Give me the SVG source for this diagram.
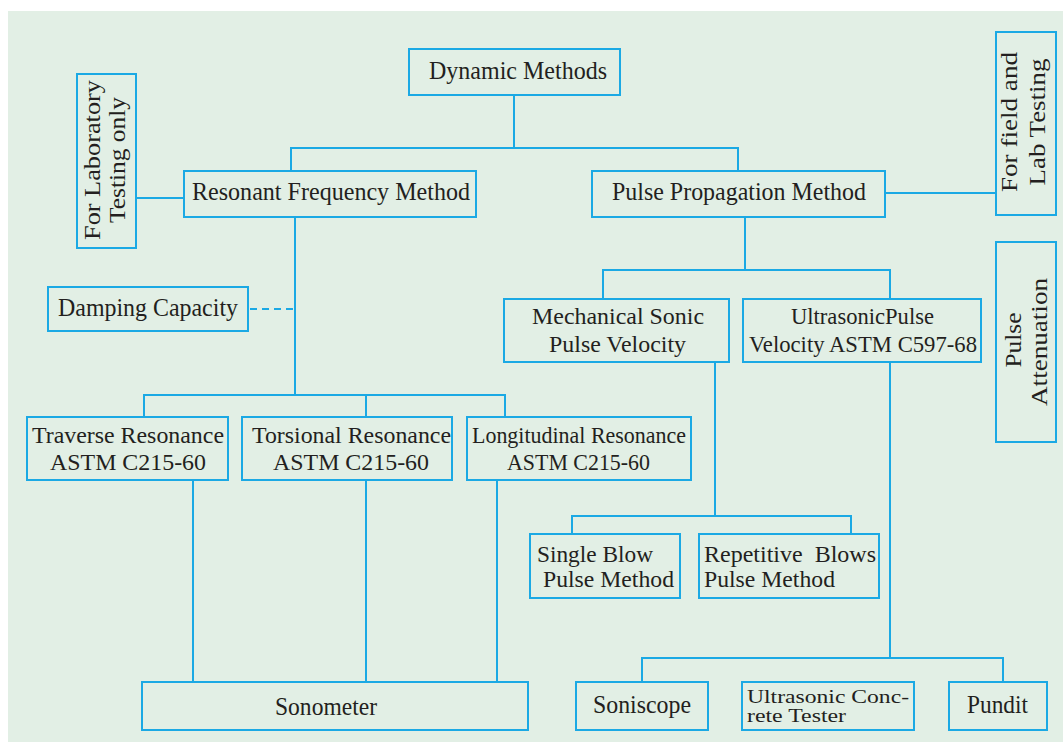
<svg xmlns="http://www.w3.org/2000/svg" width="1063" height="742" viewBox="0 0 1063 742">
<style>
.bx{fill:none;stroke:#1ba9e4;stroke-width:2}
.cn{fill:none;stroke:#1ba9e4;stroke-width:2}
.dash{stroke-dasharray:7,5}
text{font-family:"Liberation Serif","Times New Roman",serif;font-size:26px;fill:#231f20}
.md{font-size:23px}
.sm{font-size:19px}
.c{text-anchor:middle}
</style>
<rect x="0" y="0" width="1063" height="742" fill="#ffffff"/>
<rect x="8" y="11" width="1055" height="731" fill="#e2efe5"/>
<g id="connectors">
<path class="cn" d="M514,96 V148 M291,170 V148 H738 V170"/>
<path class="cn" d="M136,198 H184"/>
<path class="cn" d="M885,193 H996"/>
<path class="cn" d="M295,217 V395 M144,417 V395 H505 V417 M366,395 V417"/>
<path class="cn dash" d="M250,309 H295"/>
<path class="cn" d="M193,480 V682 M366,480 V682 M497,480 V682"/>
<path class="cn" d="M745,216 V270 M603,299 V270 H890 V299"/>
<path class="cn" d="M715,362 V516 M572,534 V516 H851 V534"/>
<path class="cn" d="M890,362 V658 M642,682 V658 H1003 V682"/>
</g>
<g id="dynamic-methods">
<rect class="bx" x="409" y="49" width="211" height="46"/>
<text x="429" y="79" textLength="178" lengthAdjust="spacingAndGlyphs">Dynamic Methods</text>
</g>
<g id="resonant-frequency">
<rect class="bx" x="184" y="171" width="292" height="46"/>
<text x="192" y="200" textLength="278" lengthAdjust="spacingAndGlyphs">Resonant Frequency Method</text>
</g>
<g id="pulse-propagation">
<rect class="bx" x="592" y="171" width="293" height="46"/>
<text x="612" y="200" textLength="254" lengthAdjust="spacingAndGlyphs">Pulse Propagation Method</text>
</g>
<g id="lab-testing">
<rect class="bx" x="77" y="74" width="59" height="174"/>
<text class="c md" transform="translate(100,160) rotate(-90)" textLength="160" lengthAdjust="spacingAndGlyphs">For Laboratory</text>
<text class="c md" transform="translate(125,160) rotate(-90)" textLength="126" lengthAdjust="spacingAndGlyphs">Testing only</text>
</g>
<g id="field-lab-testing">
<rect class="bx" x="996" y="32" width="60" height="183"/>
<text class="c md" transform="translate(1017,122) rotate(-90)" textLength="140" lengthAdjust="spacingAndGlyphs">For field and</text>
<text class="c md" transform="translate(1045,122) rotate(-90)" textLength="127" lengthAdjust="spacingAndGlyphs">Lab Testing</text>
</g>
<g id="pulse-attenuation">
<rect class="bx" x="996" y="242" width="60" height="200"/>
<text class="c md" transform="translate(1021,340) rotate(-90)" textLength="55" lengthAdjust="spacingAndGlyphs">Pulse</text>
<text class="c md" transform="translate(1047,342) rotate(-90)" textLength="128" lengthAdjust="spacingAndGlyphs">Attenuation</text>
</g>
<g id="damping-capacity">
<rect class="bx" x="48" y="287" width="200" height="44"/>
<text x="58" y="316" textLength="180" lengthAdjust="spacingAndGlyphs">Damping Capacity</text>
</g>
<g id="traverse-resonance">
<rect class="bx" x="27" y="417" width="201" height="63"/>
<text class="md" x="32" y="443" textLength="192" lengthAdjust="spacingAndGlyphs">Traverse Resonance</text>
<text class="md" x="50" y="470" textLength="156" lengthAdjust="spacingAndGlyphs">ASTM C215-60</text>
</g>
<g id="torsional-resonance">
<rect class="bx" x="242" y="417" width="210" height="63"/>
<text class="md" x="252" y="443" textLength="199" lengthAdjust="spacingAndGlyphs">Torsional Resonance</text>
<text class="md" x="273" y="470" textLength="156" lengthAdjust="spacingAndGlyphs">ASTM C215-60</text>
</g>
<g id="longitudinal-resonance">
<rect class="bx" x="467" y="417" width="224" height="63"/>
<text class="md" x="472" y="443" textLength="214" lengthAdjust="spacingAndGlyphs">Longitudinal Resonance</text>
<text class="md" x="507" y="470" textLength="143" lengthAdjust="spacingAndGlyphs">ASTM C215-60</text>
</g>
<g id="sonometer">
<rect class="bx" x="142" y="682" width="386" height="48"/>
<text x="275" y="715" textLength="102" lengthAdjust="spacingAndGlyphs">Sonometer</text>
</g>
<g id="mechanical-sonic">
<rect class="bx" x="504" y="299" width="225" height="63"/>
<text class="md" x="532" y="324" textLength="172" lengthAdjust="spacingAndGlyphs">Mechanical Sonic</text>
<text class="md" x="549" y="352" textLength="137" lengthAdjust="spacingAndGlyphs">Pulse Velocity</text>
</g>
<g id="ultrasonic-pulse">
<rect class="bx" x="743" y="299" width="238" height="63"/>
<text class="md" x="791" y="324" textLength="143" lengthAdjust="spacingAndGlyphs">UltrasonicPulse</text>
<text class="md" x="749" y="352" textLength="228" lengthAdjust="spacingAndGlyphs">Velocity ASTM C597-68</text>
</g>
<g id="single-blow">
<rect class="bx" x="530" y="534" width="150" height="64"/>
<text class="md" x="537" y="562" textLength="116" lengthAdjust="spacingAndGlyphs">Single Blow</text>
<text class="md" x="543" y="587" textLength="131" lengthAdjust="spacingAndGlyphs">Pulse Method</text>
</g>
<g id="repetitive-blows">
<rect class="bx" x="699" y="534" width="180" height="64"/>
<text class="md" x="704" y="562" textLength="172" lengthAdjust="spacingAndGlyphs" xml:space="preserve">Repetitive  Blows</text>
<text class="md" x="704" y="587" textLength="131" lengthAdjust="spacingAndGlyphs">Pulse Method</text>
</g>
<g id="soniscope">
<rect class="bx" x="576" y="682" width="132" height="48"/>
<text x="593" y="713" textLength="98" lengthAdjust="spacingAndGlyphs">Soniscope</text>
</g>
<g id="ultrasonic-concrete-tester">
<rect class="bx" x="742" y="682" width="172" height="48"/>
<text class="sm" x="747" y="703" textLength="162" lengthAdjust="spacingAndGlyphs">Ultrasonic Conc-</text>
<text class="sm" x="747" y="722" textLength="99" lengthAdjust="spacingAndGlyphs">rete Tester</text>
</g>
<g id="pundit">
<rect class="bx" x="949" y="682" width="98" height="48"/>
<text x="967" y="713" textLength="61" lengthAdjust="spacingAndGlyphs">Pundit</text>
</g>
</svg>
